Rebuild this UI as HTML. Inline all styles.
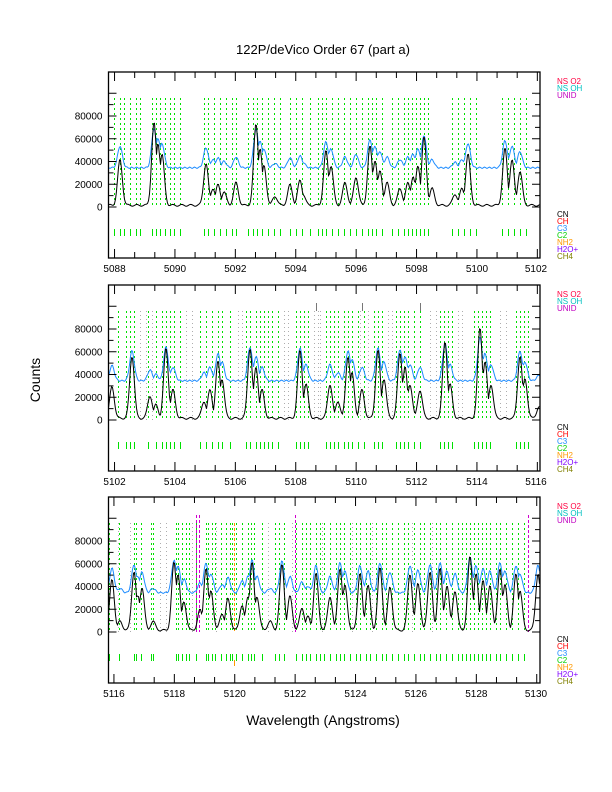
<!DOCTYPE html>
<html><head><meta charset="utf-8"><style>
body{margin:0;background:#fff}
svg{display:block}
text{font-family:"Liberation Sans",sans-serif}
</style></head><body>
<svg id="s" width="612" height="792" xmlns="http://www.w3.org/2000/svg">
<text x="323" y="54" font-size="13" text-anchor="middle">122P/deVico Order 67 (part a)</text>
<text x="40" y="380" font-size="14" text-anchor="middle" transform="rotate(-90 40 380)">Counts</text>
<text x="323" y="725" font-size="14" text-anchor="middle">Wavelength (Angstroms)</text>
</svg>
<script>
var S=document.getElementById('s'),NS='http://www.w3.org/2000/svg';
function el(t,a,txt){var e=document.createElementNS(NS,t);for(var k in a)e.setAttribute(k,a[k]);if(txt)e.textContent=txt;S.appendChild(e);return e;}
var L=108.5,R=540;
var panels=[
{off:0,x0:5087.8,labels:[5088,5090,5092,5094,5096,5098,5100,5102],
pk:[[120,40000],[154,73000],[158,55000],[162,45000],[206,37000],[213,15000],[218,18000],[224,12000],[236,20000],[256,72000],[260,50000],[264,35000],[275,8000],[290,18000],[300,22000],[303,10000],[326,48000],[331,35000],[345,20000],[356,25000],[370,52000],[375,40000],[380,30000],[387,20000],[400,15000],[408,20000],[413,25000],[418,35000],[424,60000],[432,15000],[455,10000],[462,15000],[468,45000],[505,50000],[512,40000],[520,30000]],
gr:[114,120,124,130,136,140,152,156,160,165,170,174,180,204,208,214,220,226,232,236,248,253,257,262,268,274,280,290,296,302,310,318,322,326,332,338,344,350,356,362,368,372,376,382,392,398,404,408,412,416,420,424,428,452,458,464,470,476,502,508,514,520,526],
dots:[],mag:[],org:[]},
{off:213,x0:5101.8,labels:[5102,5104,5106,5108,5110,5112,5114,5116],
pk:[[112,28000],[132,55000],[150,20000],[156,12000],[166,62000],[173,25000],[204,15000],[210,25000],[218,50000],[222,35000],[250,62000],[256,45000],[262,25000],[300,60000],[306,30000],[330,30000],[338,15000],[348,55000],[352,40000],[362,25000],[378,60000],[384,35000],[400,58000],[405,45000],[410,30000],[420,25000],[445,68000],[450,30000],[480,80000],[485,50000],[491,30000],[520,55000],[525,35000],[539,10000]],
gr:[118,126,130,134,148,156,162,166,170,174,180,200,206,212,218,222,230,246,250,256,260,264,268,272,278,296,300,304,308,326,330,334,338,344,348,352,358,364,374,378,382,396,400,404,408,414,420,440,444,448,452,474,478,482,486,490,516,520,524,528],
dots:[140,146,152,186,192,238,242,284,288,314,318,320,360,368,388,392,430,436,458,462,500,506],mag:[],org:[],blk:[316,362,420]},
{off:425,x0:5115.82,labels:[5116,5118,5120,5122,5124,5126,5128,5130],
pk:[[112,45000],[120,8000],[134,52000],[138,30000],[142,38000],[153,8000],[174,60000],[178,50000],[184,25000],[200,18000],[206,55000],[211,35000],[222,15000],[228,28000],[242,22000],[248,30000],[252,60000],[257,30000],[270,8000],[282,58000],[290,30000],[302,20000],[308,12000],[316,50000],[330,30000],[340,55000],[345,40000],[360,50000],[368,40000],[380,55000],[390,38000],[410,50000],[418,42000],[430,52000],[440,55000],[447,40000],[455,35000],[470,65000],[476,50000],[483,45000],[490,40000],[500,55000],[505,40000],[516,50000],[520,35000],[538,50000]],
gr:[109,119,134,136,141,151,153,176,178,182,186,189,196,206,208,212,215,221,226,230,232,236,242,248,251,254,262,275,279,284,296,302,306,310,316,320,324,330,336,340,344,350,356,360,366,370,376,382,386,392,398,404,408,414,420,424,430,436,440,446,452,458,462,466,470,474,478,482,486,490,496,500,506,512,518,524],
dots:[118,130,160,166,192,216,268,292,322,352,372,412,432],mag:[196,199,295,528],org:[234]}
];
var pxA=30.2;
panels.forEach(function(p){
var o=p.off,top=72+o,z=207+o,dt=98+o,bot=258+o;
function Y(v){return z-v*22.75/20000;}
p.gr.forEach(function(x){x+=0.5;el('line',{x1:x,x2:x,y1:dt,y2:z,stroke:'#00e000','stroke-width':1,'stroke-dasharray':'2,3'});
el('line',{x1:x,x2:x,y1:z+22,y2:z+29,stroke:'#00e000','stroke-width':1});});
p.dots.forEach(function(x){x+=0.5;el('line',{x1:x,x2:x,y1:dt,y2:z,stroke:'#999','stroke-width':0.8,'stroke-dasharray':'1,3'});});
(p.blk||[]).forEach(function(x){x+=0.5;el('line',{x1:x,x2:x,y1:top+18,y2:top+26,stroke:'#555','stroke-width':0.8});});
p.mag.forEach(function(x){x+=0.5;el('line',{x1:x,x2:x,y1:top+18,y2:z,stroke:'#d000d0','stroke-width':1,'stroke-dasharray':'3,2'});});
p.org.forEach(function(x){x+=0.5;el('line',{x1:x,x2:x,y1:dt,y2:z,stroke:'#ff9900','stroke-width':1,'stroke-dasharray':'3,2'});
el('line',{x1:x,x2:x,y1:z+28,y2:z+34,stroke:'#ff9900','stroke-width':1});});
var bk='',bl='';
for(var x=L;x<=R;x+=1){var m=0;
p.pk.forEach(function(k){var d=(x-k[0])/2.3;var g=k[1]*Math.exp(-d*d/2);if(g>m)m=g;});
var v=1500+800*Math.sin(x*0.7)+m;
var b=34500+0.48*m+600*Math.sin(x*1.3);
bk+=(bk?'L':'M')+x.toFixed(1)+','+Y(v).toFixed(1);
bl+=(bl?'L':'M')+x.toFixed(1)+','+Y(b).toFixed(1);}
el('path',{d:bl,fill:'none',stroke:'#1e8cff','stroke-width':1});
el('path',{d:bk,fill:'none',stroke:'#000','stroke-width':1});
el('rect',{x:L,y:top,width:R-L,height:bot-top,fill:'none',stroke:'#000','stroke-width':1.3});
for(var v=0;v<=100000;v+=10000){var y=Y(v);if(y<top)break;var len=(v%20000==0)?8:5;
el('line',{x1:L,x2:L+len,y1:y,y2:y,stroke:'#000'});el('line',{x1:R,x2:R-len,y1:y,y2:y,stroke:'#000'});
if(v%20000==0&&v<=80000)el('text',{x:L-6,y:y+3.5,'font-size':10,'text-anchor':'end'},String(v));}
for(var w=Math.ceil(p.x0*1.5)/1.5;;w+=2/3){var x=L+(w-p.x0)*pxA;if(x>R)break;
var maj=Math.abs(Math.round(w)-w)<0.01&&Math.round(w)%2==0;var len=maj?9:6;
el('line',{x1:x,x2:x,y1:top,y2:top+len,stroke:'#000'});el('line',{x1:x,x2:x,y1:bot,y2:bot-len,stroke:'#000'});}
p.labels.forEach(function(l){var x=L+(l-p.x0)*pxA;el('text',{x:Math.min(x,536),y:bot+14,'font-size':10,'text-anchor':'middle'},String(l));});
[['NS O2','#ff0040'],['NS OH','#00c0c0'],['UNID','#c000c0']].forEach(function(t,i){el('text',{x:557,y:top+12+i*7,'font-size':8},t[0]).setAttribute('fill',t[1]);});
[['CN','#000'],['CH','#ff0000'],['C3','#1e8cff'],['C2','#00d000'],['NH2','#ff9900'],['H2O+','#8000ff'],['CH4','#808000']].forEach(function(t,i){el('text',{x:557,y:z+10+i*7,'font-size':8},t[0]).setAttribute('fill',t[1]);});
});
</script>
</body></html>
